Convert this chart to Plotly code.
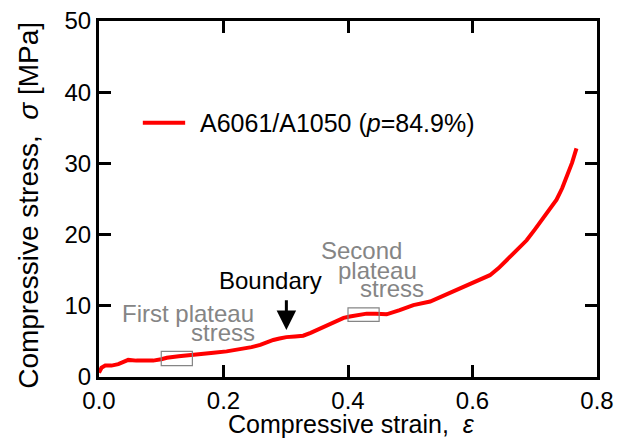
import plotly.graph_objects as go

# Compressive stress-strain curve of the A6061/A1050 sample
strain = [0.0, 0.004, 0.01, 0.02, 0.031, 0.04, 0.047, 0.06, 0.075, 0.087, 0.1, 0.109,
          0.128, 0.146, 0.165, 0.184, 0.205, 0.227, 0.245, 0.259, 0.27, 0.28, 0.29,
          0.301, 0.315, 0.328, 0.34, 0.355, 0.37, 0.382, 0.393, 0.403, 0.417, 0.43,
          0.445, 0.462, 0.483, 0.505, 0.532, 0.55, 0.569, 0.585, 0.601, 0.615, 0.628,
          0.642, 0.655, 0.672, 0.687, 0.7, 0.714, 0.725, 0.735, 0.744, 0.751, 0.76, 0.767]
stress = [0.6, 1.3, 1.6, 1.6, 1.8, 2.2, 2.4, 2.3, 2.3, 2.3, 2.5, 2.7,
          2.9, 3.1, 3.2, 3.4, 3.6, 3.9, 4.2, 4.5, 4.9, 5.2, 5.4,
          5.6, 5.7, 5.8, 6.2, 6.8, 7.5, 8.0, 8.3, 8.5, 8.7, 8.9,
          8.9, 8.8, 9.4, 10.1, 10.6, 11.3, 12.0, 12.6, 13.2, 13.8, 14.3,
          15.3, 16.4, 17.8, 19.2, 20.7, 22.3, 23.6, 24.9, 26.5, 28.1, 30.1, 32.1]

series_name = "A6061/A1050 (<i>p</i>=84.9%)"

# Regions used for the plateau stresses: (strain range, stress range)
first_box = ([0.10, 0.15], [1.6, 3.6])
second_box = ([0.40, 0.45], [7.8, 9.7])

x_ticks = [0.0, 0.2, 0.4, 0.6, 0.8]
y_ticks = [0, 10, 20, 30, 40, 50]
x_range = [0, 0.8]
y_range = [0, 50]

FONT = "Arial, Liberation Sans, sans-serif"
GRAY = "#858585"
RED = "#ff0000"

fig = go.Figure()
fig.add_trace(go.Scatter(
    x=strain, y=stress, mode="lines", name=series_name, showlegend=False,
    line=dict(color=RED, width=4),
))

# Legend sample line and label
fig.add_shape(type="line", xref="paper", yref="paper",
              x0=0.088, x1=0.173, y0=0.714, y1=0.714,
              line=dict(color=RED, width=4))
fig.add_annotation(xref="paper", yref="paper", x=0.199, y=0.714,
                   xanchor="left", yanchor="middle", showarrow=False,
                   text=series_name,
                   font=dict(family=FONT, size=25, color="black"))

for (xr, yr) in (first_box, second_box):
    fig.add_shape(type="rect", xref="x", yref="y",
                  x0=xr[0], x1=xr[1], y0=yr[0], y1=yr[1],
                  line=dict(color=GRAY, width=1.2))

ann_gray = dict(font=dict(family=FONT, size=24, color=GRAY), showarrow=False,
                xref="x", yref="y")
fig.add_annotation(x=0.143, y=8.9, text="First plateau", **ann_gray)
fig.add_annotation(x=0.199, y=6.2, text="stress", **ann_gray)
fig.add_annotation(x=0.422, y=17.8, text="Second", **ann_gray)
fig.add_annotation(x=0.447, y=15.0, text="plateau", **ann_gray)
fig.add_annotation(x=0.471, y=12.4, text="stress", **ann_gray)

fig.add_annotation(x=0.275, y=13.6, text="Boundary", showarrow=False,
                   font=dict(family=FONT, size=24, color="black"))
fig.add_annotation(x=0.301, y=6.6, ax=0.301, ay=11.0, axref="x", ayref="y",
                   xref="x", yref="y", text="", showarrow=True,
                   arrowhead=2, arrowsize=1.3, arrowwidth=3, arrowcolor="black")

# Axis titles
fig.add_annotation(xref="paper", yref="paper", x=0.508, y=-0.132,
                   xanchor="center", yanchor="middle", showarrow=False,
                   text="Compressive strain,  <i>ε</i>",
                   font=dict(family=FONT, size=25, color="black"))
fig.add_annotation(xref="paper", yref="paper", x=-0.143, y=0.483,
                   xanchor="center", yanchor="middle", showarrow=False,
                   textangle=-90,
                   text="Compressive stress,  <i>σ</i> [MPa]",
                   font=dict(family=FONT, size=28, color="black"))

# Framed axes with inward ticks on all four sides
axis_common = dict(
    showline=True, linecolor="black", linewidth=3, mirror="ticks",
    ticks="inside", ticklen=12, tickwidth=3, tickcolor="black",
    showgrid=False, zeroline=False, automargin=False,
    tickfont=dict(family=FONT, size=24, color="black"),
)

fig.update_xaxes(range=x_range, tickmode="array", tickvals=x_ticks,
                 ticktext=[f"{v:.1f}" for v in x_ticks], **axis_common)
fig.update_yaxes(range=y_range, tickmode="array", tickvals=y_ticks,
                 **axis_common)

fig.update_layout(
    width=626, height=439,
    margin=dict(l=99, r=29, t=21, b=62),
    paper_bgcolor="white", plot_bgcolor="white",
)

fig.write_html("out.html")
